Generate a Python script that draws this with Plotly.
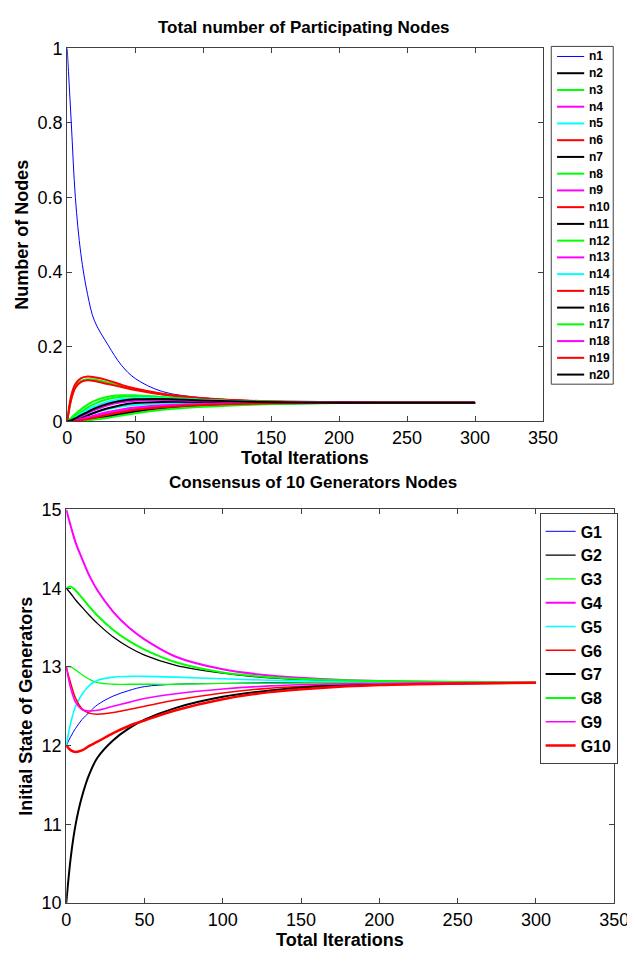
import plotly.graph_objects as go

# ---------------- data ----------------
iters = [0, 3, 6, 10, 15, 20, 30, 40, 50, 70, 100, 130, 160, 200, 250, 300]

node_names = ["n%d" % i for i in range(1, 21)]
node_colors = ["#0000ff", "#000000", "#00ff00", "#ff00ff", "#00ffff", "#ff0000",
               "#000000", "#00ff00", "#ff00ff", "#ff0000", "#000000", "#00ff00",
               "#ff00ff", "#00ffff", "#ff0000", "#000000", "#00ff00", "#ff00ff",
               "#ff0000", "#000000"]

n1 = [1.0, 0.8, 0.6, 0.45, 0.34, 0.27, 0.205, 0.15, 0.115, 0.08, 0.063, 0.056, 0.052, 0.05, 0.05, 0.05]
n2 = [0, 0.004, 0.01, 0.02, 0.03, 0.038, 0.05, 0.056, 0.058, 0.057, 0.054, 0.052, 0.051, 0.05, 0.05, 0.05]
n3 = [0, 0.06, 0.092, 0.108, 0.113, 0.112, 0.104, 0.094, 0.086, 0.073, 0.061, 0.055, 0.052, 0.051, 0.05, 0.05]
n4 = [0, 0.003, 0.008, 0.017, 0.027, 0.036, 0.05, 0.058, 0.062, 0.062, 0.057, 0.053, 0.051, 0.05, 0.05, 0.05]
n5 = [0, 0.002, 0.005, 0.01, 0.017, 0.023, 0.033, 0.04, 0.044, 0.048, 0.05, 0.05, 0.05, 0.05, 0.05, 0.05]
n6 = [0, 0.07, 0.1, 0.115, 0.12, 0.118, 0.11, 0.098, 0.088, 0.074, 0.062, 0.056, 0.053, 0.051, 0.05, 0.05]
n7 = [0, 0.001, 0.004, 0.009, 0.016, 0.023, 0.035, 0.044, 0.049, 0.052, 0.052, 0.051, 0.05, 0.05, 0.05, 0.05]
n8 = [0, 0.01, 0.02, 0.032, 0.045, 0.055, 0.066, 0.07, 0.07, 0.065, 0.058, 0.054, 0.052, 0.05, 0.05, 0.05]
n9 = [0, 0.001, 0.003, 0.006, 0.011, 0.016, 0.025, 0.032, 0.037, 0.043, 0.047, 0.049, 0.05, 0.05, 0.05, 0.05]
n10 = [0, 0.06, 0.09, 0.105, 0.11, 0.108, 0.1, 0.092, 0.084, 0.072, 0.061, 0.055, 0.052, 0.051, 0.05, 0.05]
n11 = [0, 0, 0.001, 0.003, 0.006, 0.01, 0.018, 0.025, 0.031, 0.038, 0.044, 0.047, 0.049, 0.05, 0.05, 0.05]
n12 = [0, 0.006, 0.014, 0.025, 0.037, 0.047, 0.06, 0.066, 0.068, 0.065, 0.058, 0.054, 0.052, 0.05, 0.05, 0.05]
n13 = [0, 0.002, 0.006, 0.013, 0.022, 0.03, 0.043, 0.051, 0.055, 0.057, 0.055, 0.052, 0.051, 0.05, 0.05, 0.05]
n14 = [0, 0.004, 0.01, 0.02, 0.031, 0.04, 0.053, 0.06, 0.063, 0.062, 0.057, 0.053, 0.051, 0.05, 0.05, 0.05]
n15 = [0, 0, 0.001, 0.002, 0.005, 0.008, 0.015, 0.022, 0.028, 0.036, 0.043, 0.047, 0.049, 0.05, 0.05, 0.05]
n16 = [0, 0, 0.001, 0.002, 0.004, 0.007, 0.013, 0.02, 0.026, 0.035, 0.042, 0.046, 0.048, 0.05, 0.05, 0.05]
n17 = [0, 0, 0, 0.001, 0.003, 0.005, 0.01, 0.016, 0.022, 0.031, 0.039, 0.044, 0.047, 0.049, 0.05, 0.05]
n18 = [0, 0.001, 0.002, 0.005, 0.009, 0.013, 0.021, 0.028, 0.033, 0.04, 0.045, 0.048, 0.049, 0.05, 0.05, 0.05]
n19 = [0, 0, 0.001, 0.003, 0.006, 0.01, 0.018, 0.025, 0.031, 0.038, 0.044, 0.047, 0.049, 0.05, 0.05, 0.05]
n20 = [0, 0.003, 0.008, 0.016, 0.025, 0.034, 0.047, 0.055, 0.059, 0.06, 0.056, 0.053, 0.051, 0.05, 0.05, 0.05]
node_series = [n1, n2, n3, n4, n5, n6, n7, n8, n9, n10,
               n11, n12, n13, n14, n15, n16, n17, n18, n19, n20]

gen_names = ["G%d" % i for i in range(1, 11)]
gen_colors = ["#0000ff", "#000000", "#00ff00", "#ff00ff", "#00ffff",
              "#ff0000", "#000000", "#00ff00", "#ff00ff", "#ff0000"]
gen_widths = [1, 1.3, 1.3, 2, 1.6, 1.5, 2, 2, 1.6, 2.5]

G1 = [12, 12.12, 12.22, 12.33, 12.43, 12.52, 12.63, 12.7, 12.75, 12.78, 12.79, 12.8, 12.8, 12.8, 12.8, 12.8]
G2 = [14, 13.93, 13.85, 13.76, 13.65, 13.55, 13.38, 13.25, 13.15, 13.02, 12.92, 12.86, 12.83, 12.81, 12.8, 12.8]
G3 = [13, 13.0, 12.96, 12.9, 12.84, 12.8, 12.78, 12.78, 12.78, 12.78, 12.79, 12.79, 12.8, 12.8, 12.8, 12.8]
G4 = [15, 14.78, 14.58, 14.38, 14.15, 13.97, 13.7, 13.5, 13.35, 13.13, 12.97, 12.89, 12.85, 12.82, 12.81, 12.8]
G5 = [12, 12.3, 12.5, 12.65, 12.77, 12.83, 12.87, 12.88, 12.88, 12.87, 12.85, 12.83, 12.82, 12.81, 12.8, 12.8]
G6 = [13, 12.78, 12.6, 12.47, 12.41, 12.4, 12.42, 12.46, 12.5, 12.58, 12.67, 12.73, 12.76, 12.78, 12.79, 12.8]
G7 = [10, 10.6, 11.0, 11.35, 11.65, 11.85, 12.07, 12.22, 12.33, 12.48, 12.62, 12.7, 12.75, 12.78, 12.79, 12.8]
G8 = [14, 14.02, 13.97, 13.88, 13.76, 13.65, 13.47, 13.33, 13.22, 13.06, 12.93, 12.87, 12.84, 12.82, 12.81, 12.8]
G9 = [13, 12.72, 12.55, 12.46, 12.44, 12.45, 12.5, 12.55, 12.6, 12.66, 12.72, 12.76, 12.78, 12.79, 12.8, 12.8]
G10 = [12, 11.94, 11.92, 11.94, 12.0, 12.05, 12.16, 12.25, 12.32, 12.45, 12.59, 12.68, 12.73, 12.77, 12.79, 12.8]
gen_series = [G1, G2, G3, G4, G5, G6, G7, G8, G9, G10]

x_ticks = [0, 50, 100, 150, 200, 250, 300, 350]

# ---------------- layout helpers ----------------
# the page body has an 8 px default margin, so the figure is drawn 8 px in
OFF = 8
W, H = 635 - OFF, 964 - OFF
FONT = "Liberation Sans, Arial, sans-serif"
AX = "#404040"


def fx(p):
    return (p - OFF) / W


def fy(p):
    return 1 - (p - OFF) / H


fig = go.Figure()

for name, col, ys in zip(node_names, node_colors, node_series):
    fig.add_trace(go.Scatter(
        x=iters, y=ys, mode="lines", name=name, showlegend=False,
        line=dict(color=col, width=1 if name == "n1" else 2, shape="spline", smoothing=1.0),
        xaxis="x", yaxis="y"))

for name, col, wd, ys in zip(gen_names, gen_colors, gen_widths, gen_series):
    fig.add_trace(go.Scatter(
        x=iters, y=ys, mode="lines", name=name, legend="legend2",
        line=dict(color=col, width=wd, shape="spline", smoothing=1.0),
        xaxis="x2", yaxis="y2"))

axis_common = dict(
    showline=True, linecolor=AX, linewidth=1, mirror="ticks",
    ticks="inside", ticklen=5, tickcolor=AX, showgrid=False, zeroline=False,
    tickfont=dict(family=FONT, size=18, color="black"),
)
title_font = dict(family=FONT, size=18, color="black", weight="bold")

# compact legend for the top chart (plotly's legend rows cannot be this tight)
leg_top, leg_step = 47.3, 17.1
shapes = [dict(type="rect", xref="paper", yref="paper",
               x0=fx(564), x1=fx(628), y0=fy(382), y1=fy(37),
               line=dict(color=AX, width=1), fillcolor="white", layer="above")]
annotations = []
for i, (name, col) in enumerate(zip(node_names, node_colors)):
    yy = leg_top + i * leg_step
    shapes.append(dict(type="line", xref="paper", yref="paper",
                       x0=fx(570), x1=fx(598), y0=fy(yy), y1=fy(yy),
                       line=dict(color=col, width=1 if name == "n1" else 2), layer="above"))
    annotations.append(dict(xref="paper", yref="paper", x=fx(601), y=fy(yy),
                            text="<b>%s</b>" % name, showarrow=False,
                            xanchor="left", yanchor="middle",
                            font=dict(family=FONT, size=12, color="black")))


def label(text, x, y, size=17):
    annotations.append(dict(xref="paper", yref="paper", x=fx(x), y=fy(y),
                            text="<b>%s</b>" % text, showarrow=False,
                            xanchor="center", yanchor="middle",
                            font=dict(family=FONT, size=size, color="black")))


label("Total number of Participating Nodes", 309, 18)
label("Total Iterations", 309.5, 457, 18)
label("Consensus of 10 Generators Nodes", 318, 482)
label("Total Iterations", 346, 950, 18)

fig.update_layout(
    width=W, height=H, margin=dict(l=0, r=0, t=0, b=0),
    paper_bgcolor="white", plot_bgcolor="white",
    font=dict(family=FONT, color="black"),
    xaxis=dict(domain=[fx(64), fx(555.5)], range=[0, 350], tickvals=x_ticks,
               anchor="y", **axis_common),
    yaxis=dict(domain=[fy(420), fy(39)], range=[0, 1], dtick=0.2, anchor="x",
               title=dict(text="Number of Nodes", standoff=4, font=title_font),
               **axis_common),
    xaxis2=dict(domain=[fx(63), fx(629)], range=[0, 350], tickvals=x_ticks,
                anchor="y2", **axis_common),
    yaxis2=dict(domain=[fy(912), fy(510)], range=[10, 15], dtick=1, anchor="x2",
                title=dict(text="Initial State of Generators", standoff=4, font=title_font),
                **axis_common),
    legend2=dict(x=fx(552), y=fy(514), xanchor="left", yanchor="top",
                 bgcolor="white", bordercolor=AX, borderwidth=1,
                 itemwidth=30, tracegroupgap=0,
                 font=dict(family=FONT, size=16, color="black", weight="bold")),
    shapes=shapes, annotations=annotations,
)

fig.write_html("out.html")
